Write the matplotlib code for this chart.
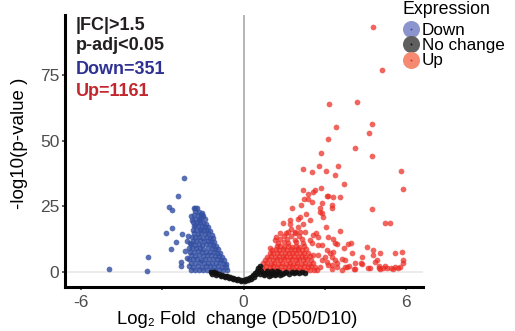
import matplotlib
matplotlib.use("Agg")
import matplotlib.pyplot as plt

plt.rcParams['font.family'] = ['Liberation Sans', 'DejaVu Sans']

# ---------------- data (log2FC, -log10 p) ----------------
down_core = [
    (-1.95, 0.7), (-1.8, 0.5), (-1.65, 0.8), (-1.5, 0.5), (-1.35, 0.7), (-1.2, 0.5), (-1.05, 0.6), (-0.9, 0.5), (-0.75, 0.7), (-0.62, 0.6),
    (-2.0, 2.1), (-1.85, 1.9), (-1.7, 2.2), (-1.55, 1.8), (-1.4, 2.1), (-1.25, 2.0), (-1.1, 1.9), (-0.95, 2.2), (-0.8, 1.9), (-0.64, 1.8),
    (-1.95, 3.5), (-1.78, 3.3), (-1.62, 3.6), (-1.47, 3.2), (-1.32, 3.5), (-1.17, 3.4), (-1.02, 3.3), (-0.88, 3.6), (-0.74, 3.1), (-0.64, 3.0),
    (-2.02, 4.9), (-1.88, 4.7), (-1.72, 5.0), (-1.58, 4.6), (-1.43, 4.9), (-1.28, 4.8), (-1.13, 4.7), (-0.98, 5.0), (-0.84, 4.5), (-0.72, 4.4),
    (-1.95, 6.3), (-1.8, 6.1), (-1.65, 6.4), (-1.5, 6.0), (-1.35, 6.3), (-1.2, 6.2), (-1.05, 6.1), (-0.92, 5.9), (-0.8, 5.8),
    (-1.98, 7.7), (-1.84, 7.5), (-1.7, 7.8), (-1.55, 7.4), (-1.4, 7.7), (-1.25, 7.6), (-1.1, 7.4), (-0.98, 7.2), (-0.86, 7.1),
    (-1.9, 9.1), (-1.76, 8.9), (-1.62, 9.2), (-1.48, 8.8), (-1.33, 9.1), (-1.18, 9.0), (-1.05, 8.7), (-0.94, 8.5),
    (-1.95, 10.5), (-1.8, 10.3), (-1.66, 10.6), (-1.52, 10.2), (-1.38, 10.5), (-1.24, 10.4), (-1.12, 10.1), (-1.0, 9.9),
    (-1.88, 11.9), (-1.74, 11.7), (-1.6, 12.0), (-1.46, 11.6), (-1.32, 11.9), (-1.2, 11.6), (-1.08, 11.4),
    (-1.92, 13.3), (-1.78, 13.1), (-1.64, 13.4), (-1.5, 13.0), (-1.36, 13.3), (-1.25, 13.0), (-1.13, 12.8),
    (-1.84, 14.7), (-1.7, 14.5), (-1.56, 14.8), (-1.42, 14.4), (-1.3, 14.6), (-1.18, 14.2),
    (-1.88, 16.1), (-1.74, 15.9), (-1.6, 16.2), (-1.46, 15.8), (-1.35, 16.0), (-1.24, 15.7),
    (-1.82, 17.5), (-1.68, 17.3), (-1.55, 17.6), (-1.42, 17.2), (-1.3, 17.0),
    (-1.86, 18.9), (-1.72, 18.7), (-1.6, 19.0), (-1.5, 18.6), (-1.38, 18.4),
    (-1.8, 20.3), (-1.66, 20.1), (-1.56, 20.4), (-1.44, 20.0),
    (-1.84, 21.7), (-1.7, 21.5), (-1.58, 21.7), (-1.48, 21.3),
    (-1.78, 23.1), (-1.66, 22.9), (-1.55, 22.6),
    (-1.82, 24.5), (-1.72, 24.2),
]
down_scatter = [
    (-4.96, 1.0), (-3.56, 0.3), (-3.52, 5.5), (-2.19, 35.7), (-2.41, 28.9), (-2.74, 24.7),
    (-2.63, 23.5), (-2.85, 14.8), (-2.63, 16.7), (-2.48, 11.3), (-2.67, 8.6), (-2.30, 3.7),
    (-2.15, 7.8), (-2.26, 14.4), (-2.04, 13.6), (-2.07, 11.7), (-1.98, 10.9), (-1.89, 19.7),
    (-1.81, 24.3), (-1.52, 21.6), (-1.63, 19.7), (-1.81, 17.7), (-1.56, 15.9), (-2.3, 2.3),
    (-2.1, 5.1), (-2.02, 9.2), (-1.95, 21.4),
]
up_core = [
    (0.62, 0.6), (0.76, 0.8), (0.9, 0.5), (1.04, 0.8), (1.18, 0.5), (1.32, 0.8), (1.46, 0.5), (1.6, 0.8),
    (1.74, 0.5), (1.88, 0.8), (2.02, 0.5), (2.16, 0.8), (2.3, 0.5), (2.44, 0.8), (2.58, 0.5), (2.72, 0.8),
    (0.68, 1.9), (0.82, 2.1), (0.96, 1.8), (1.1, 2.1), (1.24, 1.8), (1.38, 2.1), (1.52, 1.8), (1.66, 2.1),
    (1.8, 1.8), (1.94, 2.1), (2.08, 1.8), (2.22, 2.1), (2.36, 1.8), (2.5, 2.1), (2.64, 1.8),
    (0.72, 3.2), (0.86, 3.4), (1.0, 3.1), (1.14, 3.4), (1.28, 3.1), (1.42, 3.4), (1.56, 3.1), (1.7, 3.4),
    (1.84, 3.1), (1.98, 3.4), (2.12, 3.1), (2.26, 3.4), (2.4, 3.1), (2.56, 3.3),
    (0.8, 4.5), (0.94, 4.7), (1.08, 4.4), (1.22, 4.7), (1.36, 4.4), (1.5, 4.7), (1.64, 4.4), (1.78, 4.7),
    (1.92, 4.4), (2.06, 4.7), (2.2, 4.4), (2.34, 4.7), (2.5, 4.4),
    (0.88, 5.8), (1.02, 6.0), (1.16, 5.7), (1.3, 6.0), (1.44, 5.7), (1.58, 6.0), (1.72, 5.7), (1.86, 6.0),
    (2.0, 5.7), (2.14, 6.0), (2.28, 5.7), (2.44, 5.9),
    (0.96, 7.1), (1.1, 7.3), (1.24, 7.0), (1.38, 7.3), (1.52, 7.0), (1.66, 7.3), (1.8, 7.0), (1.94, 7.3),
    (2.08, 7.0), (2.22, 7.3), (2.38, 7.0),
    (1.04, 8.4), (1.18, 8.6), (1.32, 8.3), (1.46, 8.6), (1.6, 8.3), (1.74, 8.6), (1.88, 8.3), (2.02, 8.6),
    (2.16, 8.3), (2.32, 8.5),
    (1.22, 9.7), (1.36, 9.9), (1.5, 9.6), (1.64, 9.9), (1.78, 9.6), (1.92, 9.9), (2.06, 9.6), (2.22, 9.8),
    (1.28, 11.0), (1.5, 11.2), (1.64, 10.9), (1.92, 11.2), (2.2, 11.0),
    (1.36, 12.3), (1.6, 12.5), (1.88, 12.2), (2.16, 12.4),
    (1.48, 13.6), (1.75, 13.8), (2.05, 13.5),
    (1.58, 14.9), (1.9, 15.1),
    (1.75, 16.2),
]
up_scatter = [
    (4.79, 93.4), (5.12, 77.1), (3.14, 63.9), (4.2, 64.8), (3.41, 55.4), (4.75, 56.2), (4.64, 53.0),
    (3.12, 50.7), (4.11, 47.3), (4.75, 44.1), (2.86, 45.2), (2.21, 39.3), (2.78, 40.5), (2.51, 37.9),
    (3.03, 38.3), (3.47, 40.2), (3.38, 36.8), (5.8, 38.4), (5.88, 31.4), (3.7, 33.5), (2.21, 31.2),
    (2.62, 31.0), (2.36, 29.8), (2.84, 32.1), (3.09, 29.0), (3.29, 28.4), (3.54, 28.4), (2.38, 27.6),
    (2.23, 27.6), (2.1, 25.3), (1.77, 24.4), (2.81, 24.4), (3.25, 24.2), (2.89, 22.6), (2.94, 20.9),
    (4.75, 23.9), (5.22, 18.5), (5.42, 18.5), (3.56, 15.7), (3.03, 17.2), (2.44, 19.7), (2.07, 20.9),
    (1.73, 19.9), (1.46, 18.6), (3.31, 12.5), (3.43, 10.4), (3.86, 10.4), (3.95, 10.9), (4.54, 9.3),
    (4.77, 8.2), (5.03, 7.2), (5.58, 7.0), (5.85, 7.5), (3.99, 7.2), (4.36, 5.7), (4.79, 6.3),
    (4.91, 4.5), (5.88, 4.5), (5.9, 3.4), (5.2, 2.2), (5.59, 1.7), (5.44, 1.4), (5.78, 1.9),
    (5.0, 1.5), (4.07, 1.1), (4.37, 2.9), (4.6, 1.3), (3.89, 2.3), (3.62, 0.8), (3.43, 3.3),
    (3.25, 1.1), (3.7, 8.9), (3.31, 7.6), (4.85, 3.8), (3.62, 4.7), (3.25, 2.6), (4.11, 3.5),
    (4.32, 3.2), (3.8, 1.9), (4.11, 1.0), (4.67, 1.3), (4.98, 2.2), (5.16, 1.3), (5.3, 1.4),
    (5.5, 1.2), (5.68, 1.6), (5.05, 1.2),
    (2.57, 30.5), (3.12, 28.9), (2.51, 26.7), (2.88, 26.1), (3.25, 25.4), (2.32, 22.2), (2.81, 22.9),
    (1.7, 18.4), (2.01, 20.3), (2.2, 18.4), (1.33, 14.6), (1.64, 15.3), (2.07, 15.3), (2.69, 14.6),
    (3.12, 13.3), (3.37, 10.8), (2.75, 10.2), (3.06, 8.2), (3.25, 5.7), (2.88, 4.5), (3.12, 2.6),
    (2.57, 6.3), (2.44, 12.1), (1.15, 12.1), (0.96, 8.9), (1.21, 13.3), (2.01, 17.1), (1.89, 14.6),
    (2.26, 15.3), (2.57, 14.0), (2.75, 13.3), (2.51, 10.8), (2.88, 10.2), (3.19, 7.0), (2.75, 6.3),
    (3.0, 5.7), (3.06, 3.8), (2.81, 1.9), (3.43, 1.7), (3.74, 1.9), (3.37, 4.5), (3.74, 4.5),
]
nochange = [
    (-1.22, 0.0), (-1.1, -0.3), (-1.0, -0.6), (-0.9, -0.9), (-0.8, -1.2), (-0.7, -1.5), (-0.6, -1.8),
    (-0.5, -2.1), (-0.4, -2.4), (-0.3, -2.6), (-0.2, -2.8), (-0.1, -3.0), (0.0, -3.1), (0.1, -2.9),
    (0.2, -2.5), (0.28, -1.9), (0.35, -1.2), (0.42, -0.4), (0.48, 0.4), (0.54, 1.3), (0.6, 2.2),
    (-1.15, -0.9), (-1.0, -1.3), (-0.85, -1.7), (-0.7, -2.1), (-0.55, -2.5), (-0.4, -2.9), (-0.25, -3.3),
    (-0.1, -3.6), (0.05, -3.7), (0.18, -3.3), (0.28, -2.7), (0.38, -1.9), (0.46, -1.0), (0.53, -0.1),
    (0.6, -0.9), (0.7, -0.4), (0.8, -1.0), (0.9, -0.5), (1.0, -1.1), (1.1, -0.4), (1.2, -0.9),
    (1.3, -0.3), (1.4, -0.8), (1.5, -0.4), (1.58, 0.0), (1.68, -0.7), (1.77, 0.0), (1.86, -0.5),
    (1.95, 0.0), (2.05, -0.6), (2.15, -0.3), (2.25, -0.5), (0.65, 0.2), (0.85, 0.1), (1.05, 0.2),
    (1.25, 0.3), (0.75, -1.4), (0.95, -1.5), (1.15, -1.4), (1.35, -1.3),
]

annot_lines = ["|FC|>1.5", "p-adj<0.05", "Down=351", "Up=1161"]
legend_labels = ["Down", "No change", "Up"]
xticks = [-6, -3, 0, 3, 6]
xticklabels = ["-6", "", "0", "", "6"]
yticks = [0, 25, 50, 75]

# ---------------- styling ----------------
W, H = 515, 331
BLUE = '#3550A3'
RED = '#EC2A22'
BLACK = '#111111'
PT = 17

fig = plt.figure(figsize=(W / 100, H / 100), dpi=100)
ax = fig.add_axes([65 / W, (H - 286.5) / H, (423 - 65) / W, (286.5 - 15) / H])
ax.set_xlim(-6.59, 6.62)
ax.set_ylim(-5.65, 98.0)

ax.axvline(0, color='#b5b5b5', lw=1.4, zorder=1)
ax.axhline(0, color='#ececec', lw=1.4, zorder=0.5)

def xs(p):
    return [a for a, b in p]

def ys(p):
    return [b for a, b in p]

down = down_core + down_scatter
up = up_core + up_scatter
ax.scatter(xs(down), ys(down), s=PT, color=BLUE, alpha=0.82, linewidths=0, zorder=2)
ax.scatter(xs(up), ys(up), s=PT, color=RED, alpha=0.72, linewidths=0, zorder=3)
ax.scatter(xs(nochange), ys(nochange), s=PT, color=BLACK, alpha=0.9, linewidths=0, zorder=4)

for side in ['top', 'right']:
    ax.spines[side].set_visible(False)
for side in ['left', 'bottom']:
    ax.spines[side].set_linewidth(2.2)
    ax.spines[side].set_color('black')
    ax.spines[side].set_capstyle('projecting')

ax.set_xticks(xticks)
ax.set_xticklabels(xticklabels)
ax.set_yticks(yticks)
ax.tick_params(direction='out', length=2.5, width=1.1, color='#333333',
               labelsize=12.5, labelcolor='#4d4d4d')
ax.tick_params(axis='x', pad=3.5)
ax.tick_params(axis='y', pad=1.5)

# overlay in pixel coordinates for text / legend
ov = fig.add_axes([0, 0, 1, 1])
ov.set_xlim(0, W)
ov.set_ylim(H, 0)
ov.axis('off')
ov.patch.set_visible(False)

ov.text(237.5, 324.5, 'Log\u2082 Fold  change (D50/D10)', ha='center', va='baseline',
        fontsize=13.3, color='black')
ov.text(20, 143.5, '-log10(p-value )', rotation=90, ha='center', va='center',
        fontsize=13.5, color='black')

annot_colors = ['#231f20', '#231f20', '#2e3192', '#c1272d']
annot_base = [30.5, 50.0, 74.0, 96.5]
for t, c, yb in zip(annot_lines, annot_colors, annot_base):
    ov.text(76, yb, t, fontsize=13, fontweight='bold', color=c, va='baseline', ha='left')

ov.text(403, 14.3, 'Expression', fontsize=12.8, va='baseline', ha='left', color='black')
leg_y = [28.7, 44.2, 59.5]
leg_fill = ['#8c94cd', '#5f5f5f', '#f58a70']
leg_dot = [BLUE, BLACK, RED]
for lab, yy, fc, dc in zip(legend_labels, leg_y, leg_fill, leg_dot):
    ov.scatter([411], [yy], s=150, color=fc, linewidths=0, zorder=5)
    ov.scatter([411], [yy], s=2, color=dc, linewidths=0, zorder=6)
    ov.text(422, yy + 6.0, lab, fontsize=12.3, va='baseline', ha='left', color='black')

fig.savefig('out.png', dpi=100)
